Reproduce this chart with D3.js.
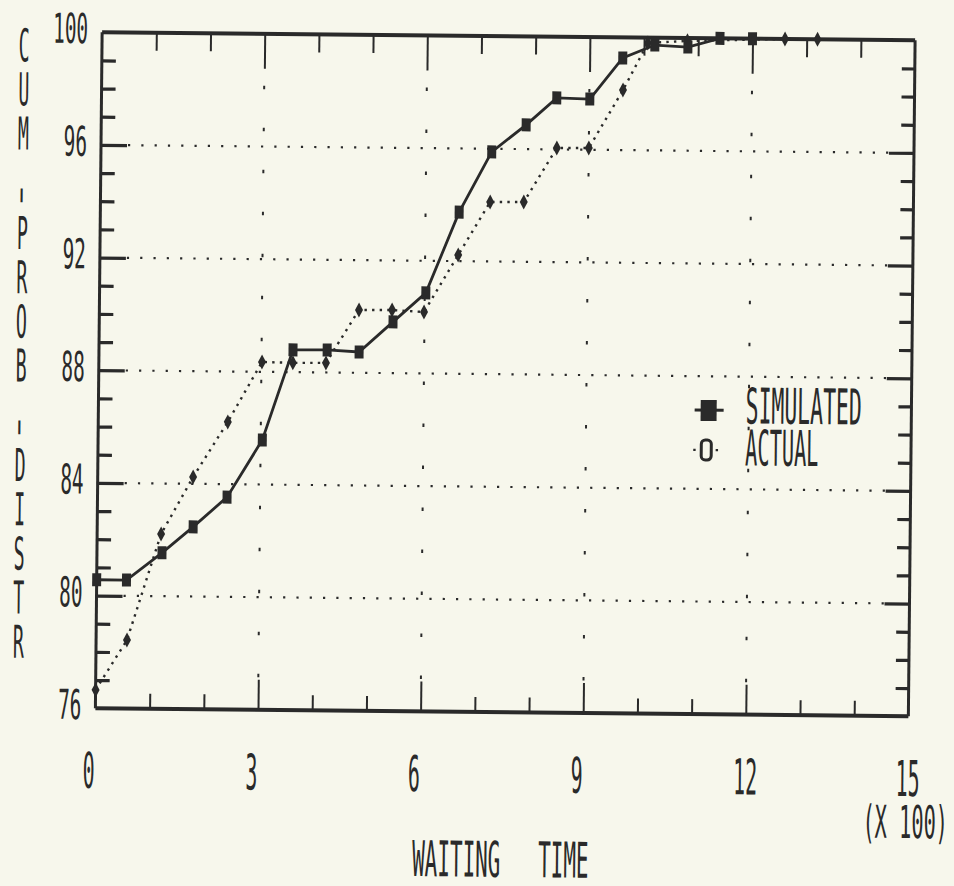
<!DOCTYPE html>
<html>
<head>
<meta charset="utf-8">
<script src="https://cdn.jsdelivr.net/npm/d3@7/dist/d3.min.js"></script>
<style>
  html, body { margin: 0; padding: 0; background: #f7f7ec; }
  svg { display: block; }
  text { font-family: "DejaVu Sans Mono", monospace; fill: #2a2a2a; white-space: pre; }
</style>
</head>
<body>
<script>
// ---------------- data ----------------
const xTickLabels = [0, 3, 6, 9, 12, 15];
const yTickLabels = [100, 96, 92, 88, 84, 80, 76];
const xUnitLabel = "(X 100)";
const xTitle = "WAITING   TIME";
const yTitle = "CUM - PROB - DISTR";
const seriesNames = ["SIMULATED", "ACTUAL"];

const simX = [0, 0.55, 1.2, 1.77, 2.39, 3.03, 3.58, 4.21, 4.8, 5.42, 6.02, 6.62, 7.21, 7.84, 8.4, 9.01, 9.61, 10.2, 10.81, 11.4, 12.0];
const simY = [80.56, 80.56, 81.54, 82.47, 83.54, 85.58, 88.79, 88.8, 88.74, 89.82, 90.86, 93.74, 95.89, 96.86, 97.83, 97.8, 99.27, 99.74, 99.68, 100, 100];

const actX = [0, 0.57, 1.18, 1.76, 2.39, 3.01, 3.58, 4.19, 4.79, 5.40, 5.99, 6.61, 7.19, 7.81, 8.41, 9.0, 9.62, 10.07, 10.8, 12.6, 13.2];
const actY = [76.65, 78.43, 82.21, 84.24, 86.21, 88.35, 88.33, 88.34, 90.23, 90.24, 90.18, 92.22, 94.11, 94.12, 96.05, 96.06, 98.13, 99.81, 99.9, 100, 100];

// ---------------- layout ----------------
const W = 954, H = 886;
const ink = "#2a2a2a";
const L = 98.75, R = 911.75, T = 36.25, B = 712.25;

const x = d3.scaleLinear().domain([0, 15]).range([L, R]);
const y = d3.scaleLinear().domain([76, 100]).range([B, T]);

const svg = d3.select("body").append("svg").attr("width", W).attr("height", H);
svg.append("rect").attr("width", W).attr("height", H).attr("fill", "#f7f7ec");

// whole plot slightly rotated like the scanned original
const g = svg.append("g").attr("transform", "rotate(0.57, 505, 374)");

// plotter-like narrow text helper (DejaVu Sans Mono metrics)
function ptext(parent, str, px, py, cap, adv, anchor) {
  const fs = cap / 0.729;
  const sx = adv / (0.602 * fs);
  return parent.append("text")
    .attr("transform", `translate(${px},${py}) scale(${sx},1)`)
    .attr("font-size", fs)
    .attr("text-anchor", anchor || "start")
    .text(str);
}

// ---------------- grid ----------------
const gridY = [80, 84, 88, 92, 96];
const gridX = [3, 6, 9, 12];
g.append("g").selectAll("line").data(gridY).join("line")
  .attr("x1", L + 27).attr("x2", R - 25)
  .attr("y1", d => y(d)).attr("y2", d => y(d))
  .attr("stroke", ink).attr("stroke-width", 2.2)
  .attr("stroke-dasharray", "2.2,11.1");
g.append("g").selectAll("line").data(gridX).join("line")
  .attr("x1", d => x(d)).attr("x2", d => x(d))
  .attr("y1", T + 52).attr("y2", B - 30)
  .attr("stroke", ink).attr("stroke-width", 2)
  .attr("stroke-dasharray", "3.5,38.5");

// ---------------- axes (inward ticks) ----------------
const minorX = d3.range(1, 15).filter(d => d % 3 !== 0);
const majorX = [3, 6, 9, 12];
const minorY = d3.range(77, 100).filter(d => d % 4 !== 0);
const majorY = [80, 84, 88, 92, 96];

function styleAxis(sel, w) {
  sel.select(".domain").remove();
  sel.selectAll(".tick line").attr("stroke", ink).attr("stroke-width", w);
  sel.selectAll(".tick text").remove();
}
g.append("g").attr("transform", `translate(${L},0)`)
  .call(d3.axisLeft(y).tickValues(minorY).tickSize(-14).tickFormat("")).call(styleAxis, 3.2);
g.append("g").attr("transform", `translate(${L},0)`)
  .call(d3.axisLeft(y).tickValues(majorY).tickSize(-26).tickFormat("")).call(styleAxis, 3.2);
g.append("g").attr("transform", `translate(${R},0)`)
  .call(d3.axisRight(y).tickValues(minorY).tickSize(-13).tickFormat("")).call(styleAxis, 3.2);
g.append("g").attr("transform", `translate(${R},0)`)
  .call(d3.axisRight(y).tickValues(majorY).tickSize(-25).tickFormat("")).call(styleAxis, 3.2);
g.append("g").attr("transform", `translate(0,${T})`)
  .call(d3.axisTop(x).tickValues(minorX).tickSize(-18).tickFormat("")).call(styleAxis, 2);
g.append("g").attr("transform", `translate(0,${T})`)
  .call(d3.axisTop(x).tickValues(majorX).tickSize(-35).tickFormat("")).call(styleAxis, 2);
g.append("g").attr("transform", `translate(0,${B})`)
  .call(d3.axisBottom(x).tickValues(minorX).tickSize(-15).tickFormat("")).call(styleAxis, 2);
g.append("g").attr("transform", `translate(0,${B})`)
  .call(d3.axisBottom(x).tickValues(majorX).tickSize(-30).tickFormat("")).call(styleAxis, 2);

// frame
g.append("line").attr("x1", L).attr("x2", R).attr("y1", T).attr("y2", T).attr("stroke", ink).attr("stroke-width", 4);
g.append("line").attr("x1", L).attr("x2", R).attr("y1", B).attr("y2", B).attr("stroke", ink).attr("stroke-width", 4);
g.append("line").attr("x1", L).attr("x2", L).attr("y1", T).attr("y2", B).attr("stroke", ink).attr("stroke-width", 3);
g.append("line").attr("x1", R).attr("x2", R).attr("y1", T).attr("y2", B).attr("stroke", ink).attr("stroke-width", 3);

// ---------------- tick labels ----------------
yTickLabels.forEach(v => ptext(g, String(v), L - 14, y(v) + 11, 30, 11.7, "end"));
xTickLabels.forEach(v => ptext(g, String(v), x(v) - 12, 792, 36, 12, "start"));
ptext(g, xUnitLabel, 867, 834, 33, 12.2, "start");
ptext(g, xTitle, 417, 877, 36, 12.6, "start");

// vertical stacked y title (upright letters, dash drawn turned)
(function () {
  let k = 0;
  const chars = yTitle.split("");
  for (let i = 0; i < chars.length; i++) {
    const c = chars[i];
    if (c === " ") { k += 0.4; continue; }
    const cy = 50 + 44.2 * k;
    if (c === "-") {
      g.append("text")
        .attr("transform", `translate(21,${cy}) rotate(90) scale(1.6,0.75)`)
        .attr("font-size", 34)
        .attr("text-anchor", "middle").attr("dy", "0.32em")
        .text(c);
      k += 0.45;
    } else {
      ptext(g, c, 21, cy + 16, 33, 11, "middle");
      k += 1;
    }
  }
})();

// ---------------- series ----------------
const simData = simX.map((d, i) => [d, simY[i]]);
const actData = actX.map((d, i) => [d, actY[i]]);
const line = d3.line().x(d => x(d[0])).y(d => y(d[1]));

g.append("path").datum(actData).attr("d", line)
  .attr("fill", "none").attr("stroke", ink).attr("stroke-width", 2.4)
  .attr("stroke-dasharray", "2.4,5.2");
g.append("path").datum(simData).attr("d", line)
  .attr("fill", "none").attr("stroke", ink).attr("stroke-width", 2.8);

const diamond = (w, h) => `M0,${-h / 2}L${w / 2},0L0,${h / 2}L${-w / 2},0Z`;
g.append("g").selectAll("path").data(actData).join("path")
  .attr("transform", d => `translate(${x(d[0])},${y(d[1])})`)
  .attr("d", diamond(8, 15)).attr("fill", ink);
g.append("g").selectAll("rect").data(simData).join("rect")
  .attr("x", d => x(d[0]) - 4.5).attr("y", d => y(d[1]) - 6.5)
  .attr("width", 9).attr("height", 13).attr("fill", ink);

// ---------------- legend ----------------
const lg = g.append("g");
lg.append("line").attr("x1", 695).attr("x2", 724).attr("y1", 408).attr("y2", 408)
  .attr("stroke", ink).attr("stroke-width", 3);
lg.append("rect").attr("x", 701).attr("y", 398).attr("width", 16).attr("height", 21).attr("fill", ink);
ptext(lg, seriesNames[0], 746, 421, 36, 12.9, "start");
lg.append("line").attr("x1", 694).attr("x2", 720).attr("y1", 448).attr("y2", 448)
  .attr("stroke", ink).attr("stroke-width", 2.4).attr("stroke-dasharray", "2.4,20");
lg.append("rect").attr("x", 702).attr("y", 438).attr("width", 10).attr("height", 20)
  .attr("rx", 4).attr("fill", "none").attr("stroke", ink).attr("stroke-width", 3);
ptext(lg, seriesNames[1], 746, 463, 36, 12.2, "start");
</script>
</body>
</html>
